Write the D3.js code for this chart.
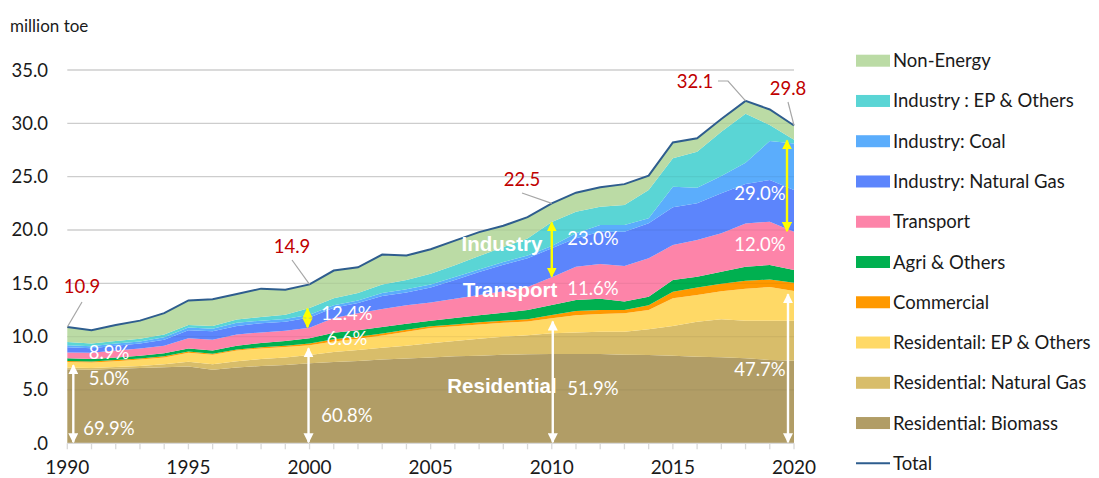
<!DOCTYPE html>
<html lang="en">
  <head>
    <meta charset="UTF-8">
    <script src="https://cdn.jsdelivr.net/npm/d3@7"></script>
    <style>
      body { margin: 0; background: #fff; }
    </style>
    <title>Final energy consumption by sector</title>
  </head>
  <body>
    <script>
      // Stacked area: final energy consumption by sector, 1990-2020 (million toe)

      const w = 1099;
      const h = 478;
      const font = "Lato, 'Open Sans', sans-serif";

      const years = d3.range(1990, 2021);

      const biomass    = [6.95,6.90,6.98,7.05,7.12,7.20,6.90,7.10,7.25,7.35,7.50,7.62,7.72,7.85,7.95,8.05,8.15,8.22,8.30,8.35,8.37,8.37,8.37,8.31,8.28,8.22,8.12,8.06,7.97,7.81,7.75];
      const resGas     = [0.15,0.15,0.17,0.20,0.28,0.45,0.50,0.60,0.65,0.70,0.78,0.93,1.03,1.10,1.20,1.32,1.45,1.58,1.68,1.77,1.94,2.03,2.10,2.16,2.41,2.78,3.28,3.56,3.53,3.69,3.75];
      const resEP      = [0.52,0.52,0.55,0.60,0.65,0.85,0.90,1.00,1.00,0.98,0.92,1.00,1.05,1.15,1.30,1.45,1.38,1.35,1.32,1.30,1.41,1.60,1.65,1.73,1.81,2.60,2.50,2.63,3.00,3.15,2.78];
      const commercial = [0.10,0.09,0.10,0.10,0.10,0.10,0.10,0.10,0.10,0.12,0.15,0.20,0.20,0.20,0.20,0.16,0.17,0.20,0.20,0.20,0.30,0.40,0.38,0.30,0.45,0.60,0.70,0.70,0.75,0.70,0.78];
      const agri       = [0.25,0.24,0.25,0.25,0.30,0.30,0.30,0.35,0.40,0.45,0.50,0.62,0.60,0.60,0.55,0.52,0.60,0.65,0.75,0.88,0.95,1.04,1.05,0.80,0.80,1.11,1.02,1.14,1.31,1.37,1.19];
      const transport  = [0.55,0.60,0.65,0.70,0.70,0.95,1.00,1.05,1.00,0.95,0.98,1.38,1.60,1.70,1.75,1.70,1.80,1.90,2.00,2.15,2.61,3.12,3.26,3.32,3.59,3.28,3.44,3.60,4.04,4.06,3.59];
      const indGas     = [0.48,0.42,0.45,0.45,0.55,0.75,0.80,0.80,0.85,0.85,0.97,0.95,0.95,1.20,1.20,1.40,1.75,2.15,2.50,2.70,2.70,2.66,3.03,3.22,3.28,3.53,3.44,3.75,3.70,3.90,3.91];
      const indCoal    = [0.20,0.18,0.20,0.20,0.25,0.25,0.25,0.30,0.25,0.25,0.25,0.25,0.25,0.30,0.30,0.30,0.30,0.25,0.25,0.25,0.22,0.47,0.63,0.63,0.48,1.94,1.47,1.62,2.00,3.66,4.35];
      const indEP      = [0.29,0.25,0.25,0.25,0.25,0.25,0.25,0.30,0.35,0.40,0.63,0.65,0.70,0.80,0.85,1.00,1.10,1.25,1.40,1.60,2.26,2.02,1.71,1.87,2.65,2.66,3.37,4.14,4.60,1.50,0.35];
      const nonEnergy  = [1.41,1.25,1.50,1.70,2.00,2.30,2.50,2.40,2.65,2.35,2.22,2.60,2.40,2.80,2.30,2.30,2.30,2.25,2.00,2.00,1.74,1.79,1.82,1.96,1.35,1.48,1.26,1.20,1.20,1.46,1.35];

      // bottom to top
      const seriesNames = ['Residential: Biomass', 'Residential: Natural Gas', 'Residentail: EP & Others',
                           'Commercial', 'Agri & Others', 'Transport', 'Industry: Natural Gas',
                           'Industry: Coal', 'Industry : EP & Others', 'Non-Energy'];
      const seriesValues = [biomass, resGas, resEP, commercial, agri, transport, indGas, indCoal, indEP, nonEnergy];
      const colors = ['#b19d66', '#d8bd6a', '#ffd966', '#ff9900', '#00b050', '#fd84a9',
                      '#5c85fc', '#5badfc', '#5ad5d5', '#bbdba5'];

      const yTicks = [0, 5, 10, 15, 20, 25, 30, 35];
      const xTicks = [1990, 1995, 2000, 2005, 2010, 2015, 2020];

      // totals called out in red
      const calloutYears = [1990, 2000, 2010, 2018, 2020];

      // share labels at the arrow years
      const shareYears = [1990, 2000, 2010, 2020];
      const shareIndustry = ['8.9%', '12.4%', '23.0%', '29.0%'];
      const shareTransport = ['5.0%', '6.6%', '11.6%', '12.0%'];
      const shareResidential = ['69.9%', '60.8%', '51.9%', '47.7%'];

      let table = years.map((yr, i) => {
        let row = { year: yr };
        seriesNames.forEach((n, j) => row[n] = seriesValues[j][i]);
        return row;
      });

      let stacked = d3.stack().keys(seriesNames)(table);
      let total = years.map((yr, i) => d3.sum(seriesValues, s => s[i]));

      let xScale = d3.scaleLinear()
                     .domain([1990, 2020])
                     .range([67.3, 794]);

      let yScale = d3.scaleLinear()
                     .domain([0, 35])
                     .range([443.3, 70]);

      let svg = d3.select('body')
                  .append('svg')
                  .attr('width', w)
                  .attr('height', h)
                  .style('font-family', font);

      // gridlines under
      svg.append('g')
         .selectAll('line')
         .data(yTicks.slice(1))
         .enter()
         .append('line')
         .attr('x1', xScale(1990))
         .attr('x2', xScale(2020))
         .attr('y1', d => yScale(d))
         .attr('y2', d => yScale(d))
         .attr('stroke', '#d9d9d9')
         .attr('stroke-width', 1.3);

      let area = d3.area()
                   .x(d => xScale(d.data.year))
                   .y0(d => yScale(d[0]))
                   .y1(d => yScale(d[1]));

      svg.append('g')
         .selectAll('path')
         .data(stacked)
         .enter()
         .append('path')
         .attr('d', area)
         .attr('fill', (d, i) => colors[i]);

      // faint gridlines through the areas
      svg.append('g')
         .selectAll('line')
         .data(yTicks.slice(1))
         .enter()
         .append('line')
         .attr('x1', xScale(1990))
         .attr('x2', xScale(2020))
         .attr('y1', d => yScale(d))
         .attr('y2', d => yScale(d))
         .attr('stroke', '#000')
         .attr('stroke-opacity', 0.05)
         .attr('stroke-width', 1.3);

      // total line
      let line = d3.line()
                   .x((d, i) => xScale(years[i]))
                   .y(d => yScale(d));

      svg.append('path')
         .datum(total)
         .attr('d', line)
         .attr('fill', 'none')
         .attr('stroke', '#2e5d8e')
         .attr('stroke-width', 2);

      // x axis
      let xAxis = svg.append('g');
      xAxis.append('line')
           .attr('x1', xScale(1990))
           .attr('x2', xScale(2020))
           .attr('y1', yScale(0))
           .attr('y2', yScale(0))
           .attr('stroke', '#d9d9d9')
           .attr('stroke-width', 1.3);
      xAxis.selectAll('.tick')
           .data(years)
           .enter()
           .append('line')
           .attr('x1', d => xScale(d))
           .attr('x2', d => xScale(d))
           .attr('y1', yScale(0))
           .attr('y2', yScale(0) + 6)
           .attr('stroke', '#d9d9d9')
           .attr('stroke-width', 1.3);
      xAxis.selectAll('text')
           .data(xTicks)
           .enter()
           .append('text')
           .text(d => d)
           .attr('x', d => xScale(d))
           .attr('y', 474)
           .attr('text-anchor', 'middle')
           .attr('font-size', 19)
           .attr('fill', '#1a1a1a');

      // y axis labels
      svg.append('g')
         .selectAll('text')
         .data(yTicks)
         .enter()
         .append('text')
         .text(d => d === 0 ? '.0' : d3.format('.1f')(d))
         .attr('x', 48)
         .attr('y', d => yScale(d) + 6.5)
         .attr('text-anchor', 'end')
         .attr('font-size', 18.5)
         .attr('fill', '#1a1a1a');

      svg.append('text')
         .text('million toe')
         .attr('x', 10)
         .attr('y', 32)
         .attr('font-size', 17)
         .attr('fill', '#1a1a1a');

      // red total callouts with leader lines
      const calloutPos = {
        1990: { tx: 82, ty: 293, lead: [[82, 302]] },
        2000: { tx: 292, ty: 253, lead: [[292, 260]] },
        2010: { tx: 522, ty: 186, lead: [[522, 193]] },
        2018: { tx: 695, ty: 88, lead: [[718, 81], [728, 81]] },
        2020: { tx: 788, ty: 95, lead: [[788, 102]] }
      };

      calloutYears.forEach(yr => {
        let i = years.indexOf(yr);
        let p = calloutPos[yr];
        let pts = p.lead.concat([[xScale(yr), yScale(total[i])]]);
        svg.append('path')
           .attr('d', d3.line()(pts))
           .attr('fill', 'none')
           .attr('stroke', '#a6a6a6')
           .attr('stroke-width', 1.2);
        svg.append('text')
           .text(d3.format('.1f')(total[i]))
           .attr('x', p.tx)
           .attr('y', p.ty)
           .attr('text-anchor', 'middle')
           .attr('font-size', 18.5)
           .attr('fill', '#c00000');
      });

      // double arrows
      let defs = svg.append('defs');
      ['white', 'yellow'].forEach(c => {
        defs.append('marker')
            .attr('id', 'head-' + c)
            .attr('viewBox', '0 0 10 10')
            .attr('refX', 9)
            .attr('refY', 5)
            .attr('markerWidth', 4.2)
            .attr('markerHeight', 4.2)
            .attr('markerUnits', 'strokeWidth')
            .attr('orient', 'auto-start-reverse')
            .append('path')
            .attr('d', 'M0,0L10,5L0,10Z')
            .attr('fill', c === 'white' ? '#fff' : '#ffff00');
      });

      function arrow(x, v0, v1, c) {
        svg.append('line')
           .attr('x1', x)
           .attr('x2', x)
           .attr('y1', yScale(v0))
           .attr('y2', yScale(v1))
           .attr('stroke', c === 'white' ? '#fff' : '#ffff00')
           .attr('stroke-width', 2.4)
           .attr('marker-start', 'url(#head-' + c + ')')
           .attr('marker-end', 'url(#head-' + c + ')');
      }

      const arrowShift = { 1990: 6, 2000: -1, 2010: 1, 2020: -6 };
      shareYears.forEach(yr => {
        let i = years.indexOf(yr);
        let resTop = stacked[2][i][1];
        let transTop = stacked[5][i][1];
        let indTop = stacked[8][i][1];
        arrow(xScale(yr) + arrowShift[yr], 0.1, resTop - 0.3, 'white');
        if (yr !== 1990) arrow(xScale(yr) + arrowShift[yr] - 1, transTop + 0.05, indTop - 0.05, 'yellow');
      });

      // share labels
      const labelX = [109, 347, 593, 760];
      const labelY = [[352, 378, 428], [313, 338, 415], [238, 288, 388], [193, 244, 369]];
      shareYears.forEach((yr, k) => {
        [shareIndustry[k], shareTransport[k], shareResidential[k]].forEach((t, j) => {
          svg.append('text')
             .text(t)
             .attr('x', labelX[k])
             .attr('y', labelY[k][j] + 6.5)
             .attr('text-anchor', 'middle')
             .attr('font-size', 18.5)
             .attr('fill', '#fff');
        });
      });

      // sector names
      const sectorLabels = ['Industry', 'Transport', 'Residential'];
      const sectorPos = [[502, 244], [510, 290], [502, 386]];
      svg.selectAll('.sector')
         .data(sectorLabels)
         .enter()
         .append('text')
         .text(d => d)
         .attr('x', (d, i) => sectorPos[i][0])
         .attr('y', (d, i) => sectorPos[i][1] + 7)
         .attr('text-anchor', 'middle')
         .style('font-family', "'Liberation Sans', Arial, sans-serif")
         .attr('font-weight', 'bold')
         .attr('font-size', 20.5)
         .attr('fill', '#fff');

      // legend, top to bottom
      let legendNames = seriesNames.slice().reverse();
      let legendColors = colors.slice().reverse();
      let legend = svg.append('g');
      legendNames.forEach((n, i) => {
        let cy = 60.7 + i * 40.26;
        legend.append('rect')
              .attr('x', 856)
              .attr('y', cy - 6)
              .attr('width', 34)
              .attr('height', 12)
              .attr('fill', legendColors[i]);
        legend.append('text')
              .text(n)
              .attr('x', 893)
              .attr('y', cy + 6.5)
              .attr('font-size', 18.5)
              .attr('fill', '#1a1a1a');
      });
      let ty = 60.7 + 10 * 40.26;
      legend.append('line')
            .attr('x1', 856)
            .attr('x2', 890)
            .attr('y1', ty)
            .attr('y2', ty)
            .attr('stroke', '#2e5d8e')
            .attr('stroke-width', 2);
      legend.append('text')
            .text('Total')
            .attr('x', 893)
            .attr('y', ty + 6.5)
            .attr('font-size', 18.5)
            .attr('fill', '#1a1a1a');
    </script>
  </body>
</html>
